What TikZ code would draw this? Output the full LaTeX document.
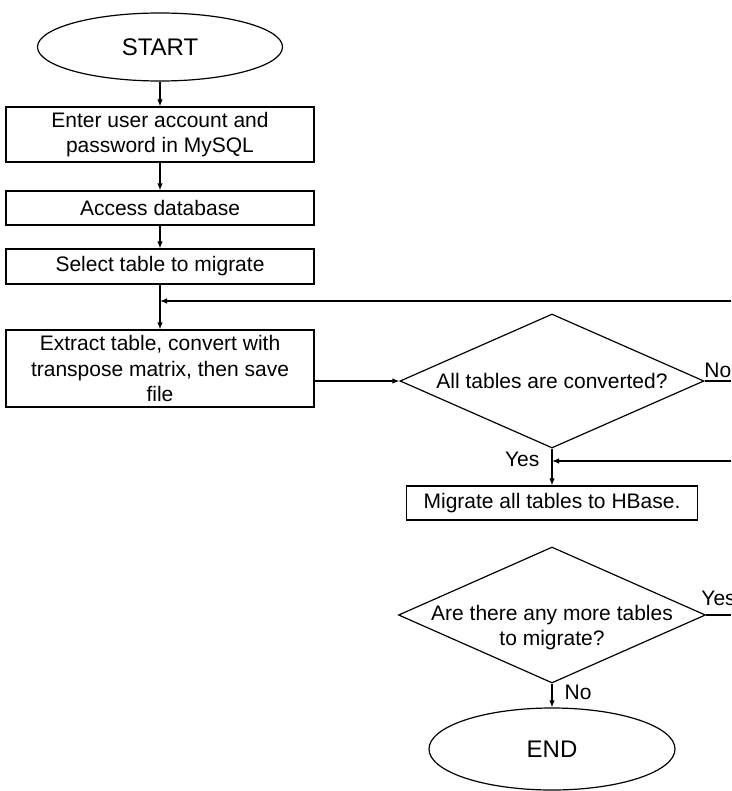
\documentclass[tikz,border=0pt]{standalone}
\usepackage{fontspec}
\setmainfont{Liberation Sans}
\usetikzlibrary{positioning,arrows.meta,shapes.geometric,quotes}

\begin{document}
\begin{tikzpicture}[x=1pt, y=-1pt, ->, >={Latex[length=7pt,width=5.5pt]}, line width=1.2pt, every node/.style={font=\fontsize{21}{25.5}\selectfont}, term/.style={ellipse, draw, inner sep=0pt, font=\fontsize{24}{28}\selectfont}, box/.style={rectangle, draw, minimum width=308, align=center, inner sep=0pt}, ask/.style={diamond, draw, inner sep=0pt}, every edge quotes/.append style={inner xsep=12pt, inner ysep=3pt}]

\useasboundingbox (0,0) rectangle (731,791);

\node[term, minimum width=245, minimum height=68] (start) at (160,47) {START};
\node[box, minimum height=55] (enter) at (160,134.5) {Enter user account and\\password in MySQL};
\node[box, minimum height=34] (access) at (160,208) {Access database};
\node[box, minimum height=35] (select) at (160,266.5) {Select table to migrate};
\node[box, minimum height=77] (extract) at (160,368.5) {Extract table, convert with\\transpose matrix, then save\\file};
\node[ask, minimum width=304, minimum height=134] (conv) at (552,381) {};
\node (convtext) at (conv) {All tables are converted?};
\node[box, minimum width=291, minimum height=34] (hbase) at (552,503) {Migrate all tables to HBase.};
\node[ask, minimum width=307, minimum height=136] (more) at (552,615) {};
\node[align=center] (moretext) at (552,627.5) {Are there any more tables\\to migrate?};
\node[term, minimum width=246, minimum height=82] (end) at (552,749) {END};

\coordinate (back1) at (731,301);
\coordinate (back2) at (731,461);
\coordinate (out1) at (731,381);
\coordinate (out2) at (731,615);

\path
 (start) edge (enter)
 (enter) edge (access)
 (access) edge (select)
 (select) edge (extract)
 (extract.east |- conv.west) edge (conv.west)
 (conv.east) edge[-, "No"] (out1)
 (conv) edge["Yes"', pos=0.3] (hbase)
 (back1) edge (back1 -| select.south)
 (back2) edge (back2 -| conv.south)
 (more.east) edge[-, "Yes" {yshift=6pt}] (out2)
 (more) edge["No", pos=0.35] (end);
\end{tikzpicture}
\end{document}
